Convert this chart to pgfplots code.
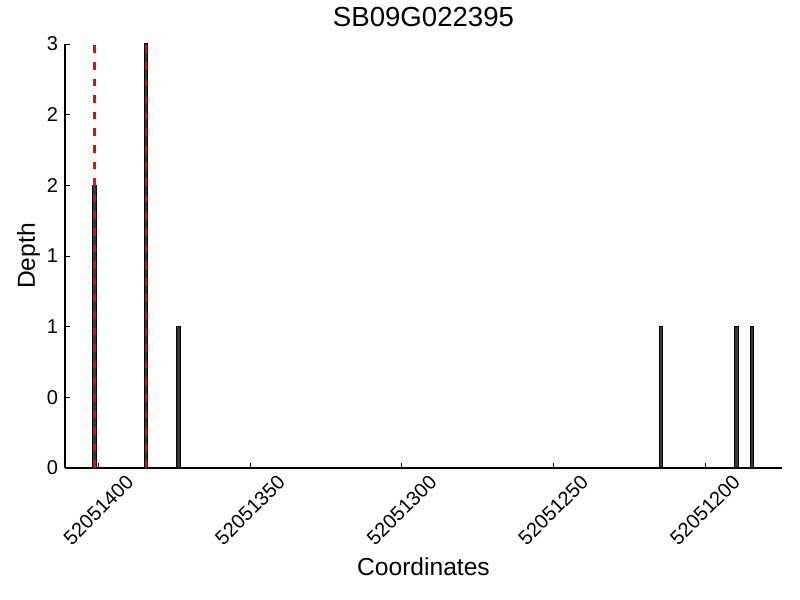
\documentclass[border=0pt]{standalone}
\usepackage{pgfplots}
\pgfplotsset{compat=1.18}
\usepackage{fontspec}
\setmainfont{Liberation Sans}
\begin{document}
\begin{tikzpicture}
% x values are positions minus 52051000 (tick labels show full coordinates)
\begin{axis}[
  scale only axis,
  width=358.5pt, height=212pt,
  x dir=reverse,
  xmin=174.6, xmax=411,
  ymin=0, ymax=3,
  axis lines=left,
  axis line style={-, line width=0.8pt},
  tick align=inside,
  major tick length=2.5pt,
  tick style={black, line width=0.4pt},
  xtick={200,250,300,350,400},
  xticklabels={52051200,52051250,52051300,52051350,52051400},
  ytick={0,0.5,1,1.5,2,2.5,3},
  yticklabels={0,0,1,1,2,2,3},
  /pgf/number format/assume math mode=true,
  tick label style={font=\fontsize{10}{12}\selectfont},
  xticklabel style={yshift=-21pt, rotate=45, anchor=center},
  title={SB09G022395},
  title style={font=\fontsize{13.8}{16}\selectfont, at={(0.5,1)}, anchor=base, yshift=2.5pt},
  xlabel={Coordinates},
  xlabel style={font=\fontsize{12.3}{14}\selectfont, at={(0.5,0)}, anchor=base, yshift=-54pt},
  clip=false,
]
\addplot[ybar, bar width=1.25, fill=black!78, draw=black, line width=0.5pt] coordinates {
  (401.3,2) (384.3,3) (373.5,1) (214.5,1) (189.5,1) (184.5,1)
};
\addplot[red, line width=1.3pt, dash pattern=on 3.8pt off 4.5pt] coordinates {(401.3,0) (401.3,3)};
\addplot[red, line width=1.3pt, dash pattern=on 3.8pt off 4.5pt] coordinates {(384.3,0) (384.3,3)};
\node[font=\fontsize{12.3}{14}\selectfont, rotate=90, anchor=base, inner sep=0pt]
  at ([xshift=-15pt]rel axis cs:0,0.5) {Depth};
\end{axis}
\pgfresetboundingbox
\useasboundingbox (-32.5pt,-66pt) rectangle (367.5pt,234pt);
\end{tikzpicture}
\end{document}
